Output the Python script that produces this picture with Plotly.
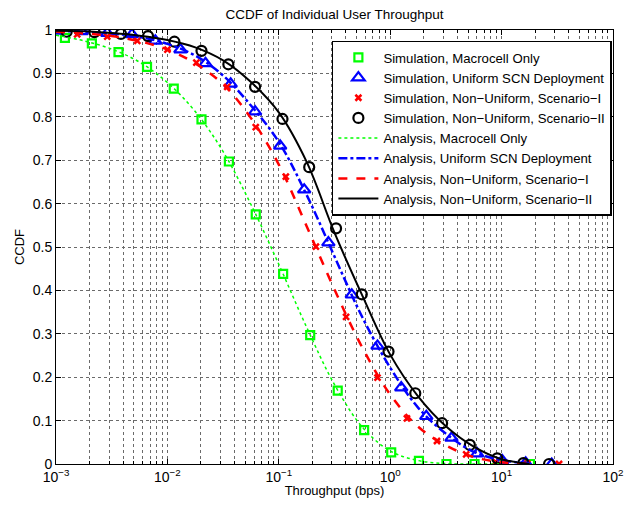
import plotly.graph_objects as go

# ---- Simulation data (x in bps, y = CCDF) ----
sim_macro_logx = [-2.92, -2.678, -2.439, -2.183, -1.943, -1.694, -1.448, -1.207, -0.961, -0.718,
                  -0.471, -0.234, 0.009, 0.258, 0.505, 0.757, 1.0, 1.255]
sim_macro_y = [0.982, 0.969, 0.949, 0.915, 0.865, 0.794, 0.697, 0.575, 0.438, 0.297,
               0.169, 0.078, 0.027, 0.007, 0.0, 0.0, 0.0, 0.0]

sim_unif_logx = [-2.99, -2.77, -2.54, -2.318, -2.108, -1.883, -1.658, -1.432, -1.213, -0.988,
                 -0.772, -0.555, -0.345, -0.114, 0.099, 0.324, 0.55, 0.781, 1.006, 1.216, 1.45]
sim_unif_y = [0.998, 0.997, 0.993, 0.99, 0.975, 0.955, 0.923, 0.876, 0.812, 0.733,
              0.632, 0.51, 0.39, 0.272, 0.176, 0.11, 0.06, 0.024, 0.008, 0.003, 0.0]

sim_nu1_logx = [-2.81, -2.54, -2.27, -2.0, -1.74, -1.463, -1.207, -0.937, -0.667, -0.396,
                -0.114, 0.15, 0.42, 0.682, 0.946, 1.23, 1.516]
sim_nu1_y = [0.99, 0.985, 0.975, 0.955, 0.925, 0.869, 0.776, 0.662, 0.501, 0.339,
             0.199, 0.105, 0.053, 0.022, 0.005, 0.001, 0.0]

sim_nu2_logx = [-2.904, -2.655, -2.417, -2.174, -1.937, -1.694, -1.453, -1.213, -0.967, -0.727,
                -0.486, -0.255, -0.015, 0.225, 0.466, 0.715, 0.961, 1.195, 1.426]
sim_nu2_y = [0.996, 0.995, 0.991, 0.986, 0.973, 0.952, 0.921, 0.869, 0.795, 0.684,
             0.543, 0.391, 0.259, 0.163, 0.094, 0.044, 0.013, 0.002, 0.0]

# ---- Analysis curves ----
ana_logx = [-3.0, -2.75, -2.5, -2.25, -2.0, -1.75, -1.5, -1.25, -1.0, -0.75,
            -0.5, -0.25, 0.0, 0.25, 0.5, 0.75, 1.0, 1.25]
ana_macro_y = [0.988, 0.975, 0.956, 0.926, 0.879, 0.812, 0.72, 0.598, 0.46, 0.315,
               0.183, 0.085, 0.03, 0.008, 0.001, 0.0, 0.0, None]
ana_unif_y = [0.998, 0.996, 0.992, 0.984, 0.968, 0.941, 0.895, 0.826, 0.742, 0.62,
              0.478, 0.338, 0.222, 0.13, 0.07, 0.028, 0.009, 0.002]
ana_nu1_y = [0.996, 0.992, 0.986, 0.974, 0.955, 0.923, 0.875, 0.797, 0.69, 0.548,
             0.402, 0.268, 0.16, 0.086, 0.043, 0.016, 0.004, 0.001]
ana_nu2_y = [0.998, 0.997, 0.993, 0.987, 0.977, 0.96, 0.93, 0.88, 0.81, 0.696,
             0.533, 0.388, 0.252, 0.156, 0.087, 0.04, 0.011, 0.0]

x_tick_exps = [-3, -2, -1, 0, 1, 2]
y_tick_vals = [0, 0.1, 0.2, 0.3, 0.4, 0.5, 0.6, 0.7, 0.8, 0.9, 1]
y_tick_text = ["0", "0.1", "0.2", "0.3", "0.4", "0.5", "0.6", "0.7", "0.8", "0.9", "1"]

x_tick_vals = [10.0 ** e for e in x_tick_exps]
x_tick_text = ["10<sup>%s</sup>" % (str(e).replace("-", "\u2212")) for e in x_tick_exps]
x_minor_vals = [k * 10.0 ** e for e in x_tick_exps[:-1] for k in range(2, 10)]


def to_x(logs):
    return [10 ** v for v in logs]


def trim(logs, ys):
    pairs = [(10 ** a, b) for a, b in zip(logs, ys) if b is not None]
    return [p[0] for p in pairs], [p[1] for p in pairs]


GREEN = "#00ff00"
BLUE = "#0000ff"
RED = "#ff0000"
BLACK = "#000000"

fig = go.Figure()

fig.add_trace(go.Scatter(x=to_x(sim_macro_logx), y=sim_macro_y, mode="markers",
                         name="Simulation, Macrocell Only",
                         marker=dict(symbol="square-open", size=8, color=GREEN,
                                     line=dict(width=2.2, color=GREEN))))
fig.add_trace(go.Scatter(x=to_x(sim_unif_logx), y=sim_unif_y, mode="markers",
                         name="Simulation, Uniform SCN Deployment",
                         marker=dict(symbol="triangle-up-open", size=11, color=BLUE,
                                     line=dict(width=2.2, color=BLUE))))
fig.add_trace(go.Scatter(x=to_x(sim_nu1_logx), y=sim_nu1_y, mode="markers",
                         name="Simulation, Non\u2212Uniform, Scenario\u2212I",
                         marker=dict(symbol="x-thin-open", size=6, color=RED,
                                     line=dict(width=2.5, color=RED))))
fig.add_trace(go.Scatter(x=to_x(sim_nu2_logx), y=sim_nu2_y, mode="markers",
                         name="Simulation, Non\u2212Uniform, Scenario\u2212II",
                         marker=dict(symbol="circle-open", size=10, color=BLACK,
                                     line=dict(width=2.2, color=BLACK))))

x, y = trim(ana_logx, ana_macro_y)
fig.add_trace(go.Scatter(x=x, y=y, mode="lines", name="Analysis, Macrocell Only",
                         line=dict(color=GREEN, width=1.5, dash="dot", shape="spline")))
x, y = trim(ana_logx, ana_unif_y)
fig.add_trace(go.Scatter(x=x, y=y, mode="lines", name="Analysis, Uniform SCN Deployment",
                         line=dict(color=BLUE, width=2.5, dash="dashdot", shape="spline")))
x, y = trim(ana_logx, ana_nu1_y)
fig.add_trace(go.Scatter(x=x, y=y, mode="lines", name="Analysis, Non\u2212Uniform, Scenario\u2212I",
                         line=dict(color=RED, width=2.5, dash="dash", shape="spline")))
x, y = trim(ana_logx, ana_nu2_y)
fig.add_trace(go.Scatter(x=x, y=y, mode="lines", name="Analysis, Non\u2212Uniform, Scenario\u2212II",
                         line=dict(color=BLACK, width=2, shape="spline")))

FONT = "Liberation Sans, Arial, Helvetica, sans-serif"
GRID = "#6a6a6a"

# The page body has an 8px margin, so the figure is sized to fit the 632x506 window.
fig.update_layout(
    width=616, height=490,
    margin=dict(l=48, r=11, t=22, b=34, autoexpand=False),
    paper_bgcolor="white", plot_bgcolor="white",
    font=dict(family=FONT, size=12, color="black"),
    title=dict(text="CCDF of Individual User Throughput", x=0.530, xanchor="center",
               y=0.9878, yanchor="middle", font=dict(size=13.5, family=FONT)),
    showlegend=True,
    legend=dict(x=0.998, xanchor="right", y=0.975, yanchor="top",
                bgcolor="white", bordercolor="black", borderwidth=1.5,
                font=dict(size=13.2, family=FONT), tracegroupgap=0,
                itemwidth=40),
    xaxis=dict(type="log", range=[-3, 2], tickmode="array",
               tickvals=x_tick_vals, ticktext=x_tick_text,
               ticks="inside", ticklen=5, tickcolor="black",
               showline=True, linecolor="black", linewidth=1, mirror="allticks",
               showgrid=True, gridcolor=GRID, griddash="dot", gridwidth=1,
               minor=dict(tickmode="array", tickvals=x_minor_vals,
                          ticks="inside", ticklen=3, tickcolor="black",
                          showgrid=True, gridcolor=GRID, griddash="dot", gridwidth=1),
               zeroline=False,
               tickfont=dict(size=14, family=FONT),
               title=dict(text="Throughput (bps)", font=dict(size=13, family=FONT), standoff=8)),
    yaxis=dict(range=[0, 1], tickmode="array", tickvals=y_tick_vals, ticktext=y_tick_text,
               ticks="inside", ticklen=5, tickcolor="black",
               showline=True, linecolor="black", linewidth=1, mirror="allticks",
               showgrid=True, gridcolor=GRID, griddash="dot", gridwidth=1,
               zeroline=False,
               tickfont=dict(size=14, family=FONT),
               title=dict(text="CCDF", font=dict(size=13, family=FONT), standoff=5)),
)

fig.write_html("out.html")
